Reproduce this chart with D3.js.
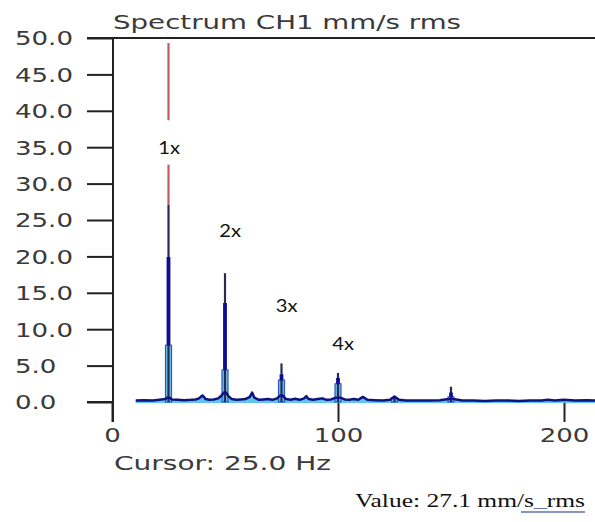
<!DOCTYPE html>
<html><head><meta charset="utf-8">
<script src="https://cdn.jsdelivr.net/npm/d3@7"></script>
<style>body{margin:0;background:#fff}svg{display:block}</style>
</head><body>
<svg id="c" width="595" height="522"></svg>
<script>
// ---- data ----
const yTicks = [0, 5, 10, 15, 20, 25, 30, 35, 40, 45, 50];
const xTicks = [0, 100, 200];
const harmonicHz = [25, 50, 75, 100, 125, 150];
const peakAmp = [27.1, 17.7, 5.3, 4.0, 0.8, 2.1];
const bandAmp = [19.9, 13.6, 3.8, 3.3, 0.6, 1.3];
const baseAmp = [7.8, 4.4, 3.0, 2.5, 0.5, 0.7];
const harmonicLabels = ["1x", "2x", "3x", "4x"];
const labelHz = [20.5, 47.5, 72.5, 97.5];
const labelAmp = [34.0, 22.6, 12.3, 7.1];
const noiseHz = [10.5,14,18,21,23.5,24.5,25.5,26.5,29,32,35,37,38.5,40,41.5,43,45,47,48.5,49.5,50.5,51.5,53,55,57,59,61,62,63,65,67,69,71,73,74.5,75.5,77,79,81,83,85,86,87,89,91,93,95,97,99,101,103,105,107,109,111,113,116,120,123,125,127,130,135,140,145,149,151,155,160,165,170,175,180,185,190,193,196,200,205,210,214];
const noiseAmp = [0.2,0.25,0.2,0.3,0.4,0.6,0.6,0.35,0.3,0.25,0.3,0.35,0.5,0.9,0.4,0.3,0.35,0.5,0.9,1.3,1.3,0.8,0.4,0.3,0.35,0.4,0.7,1.3,0.6,0.3,0.35,0.4,0.3,0.5,0.9,0.9,0.4,0.3,0.45,0.3,0.5,0.8,0.4,0.3,0.4,0.5,0.3,0.35,0.6,0.6,0.35,0.3,0.4,0.3,0.7,0.3,0.25,0.2,0.3,0.75,0.3,0.2,0.2,0.2,0.25,0.4,0.4,0.2,0.2,0.15,0.2,0.2,0.15,0.2,0.2,0.3,0.2,0.3,0.2,0.25,0.2];
const cursorHz = 25, cursorTop = 49.3;

// ---- scales ----
const svg = d3.select("#c");
const x = d3.scaleLinear().domain([0, 200]).range([112, 564]);
const y = d3.scaleLinear().domain([0, 50]).range([402, 38]);
const STRETCH = 1.37;
function stretch(sel, f) {
  sel.each(function(){ const l = this.getComputedTextLength(); d3.select(this).attr("textLength", l*(f||STRETCH)).attr("lengthAdjust","spacingAndGlyphs"); });
}
function fitWidth(sel, w) { sel.attr("textLength", w).attr("lengthAdjust","spacingAndGlyphs"); }

// title
svg.append("text").attr("x", 113).attr("y", 29).attr("font-family","DejaVu Sans, Verdana, sans-serif")
  .attr("font-size", 19).attr("fill", "#3a3a3a").text("Spectrum CH1 mm/s rms").call(fitWidth, 348);

// top frame line
svg.append("line").attr("x1", 87).attr("x2", 595).attr("y1", y(50)).attr("y2", y(50))
  .attr("stroke", "#222").attr("stroke-width", 2);

// y axis
const gy = svg.append("g").attr("transform", "translate(113,0)")
  .call(d3.axisLeft(y).tickValues(yTicks).tickSize(26).tickFormat(d3.format(".1f")));
gy.select(".domain").remove();
gy.selectAll(".tick line").attr("stroke", "#222").attr("stroke-width", 2);
gy.selectAll(".tick text").attr("x", -98).attr("text-anchor", "start").attr("dy", "0.36em")
  .attr("font-family","DejaVu Sans, Verdana, sans-serif").attr("font-size", 19).attr("fill", "#3a3a3a").call(stretch);
svg.append("line").attr("x1", 113).attr("x2", 113).attr("y1", 37).attr("y2", 422)
  .attr("stroke", "#222").attr("stroke-width", 2);

// x axis
const gx = svg.append("g").attr("transform", `translate(0,${y(0)})`)
  .call(d3.axisBottom(x).tickValues(xTicks).tickSize(20));
gx.select(".domain").remove();
gx.selectAll(".tick line").attr("stroke", "#222").attr("stroke-width", 2);
gx.selectAll(".tick text").attr("y", 33).attr("dy", "0.36em")
  .attr("font-family","DejaVu Sans, Verdana, sans-serif").attr("font-size", 19).attr("fill", "#3a3a3a").call(stretch);
svg.append("line").attr("x1", 87).attr("x2", 113).attr("y1", y(0)).attr("y2", y(0))
  .attr("stroke", "#222").attr("stroke-width", 2);

// cursor line
svg.append("line").attr("x1", x(cursorHz)).attr("x2", x(cursorHz)).attr("y1", y(cursorTop)).attr("y2", y(peakAmp[0]))
  .attr("stroke", "#c05a66").attr("stroke-width", 2.2);

// noise area + line
const pts = noiseHz.map((f,i)=>[f, noiseAmp[i]]);
svg.append("path").datum(pts)
  .attr("d", d3.area().x(d=>x(d[0])).y0(y(0)+1).y1(d=>y(d[1])))
  .attr("fill", "#5fc4ee");

// harmonics: light base, blue band, dark peak
const H = harmonicHz.map((f,i)=>({f, p:peakAmp[i], b:bandAmp[i], l:baseAmp[i]}));
svg.append("g").selectAll("rect").data(H).join("rect")
  .attr("x", d=>x(d.f)-3).attr("width", 6).attr("y", d=>y(d.l)).attr("height", d=>y(0)-y(d.l))
  .attr("fill", "#6cc0ee").attr("stroke", "#2a5ac0").attr("stroke-width", 1.2);
svg.append("g").selectAll("line").data(H).join("line")
  .attr("x1", d=>x(d.f)).attr("x2", d=>x(d.f)).attr("y1", d=>y(d.p)).attr("y2", y(0))
  .attr("stroke", "#2a2a50").attr("stroke-width", 2.2);
svg.append("g").selectAll("line").data(H).join("line")
  .attr("x1", d=>x(d.f)).attr("x2", d=>x(d.f)).attr("y1", d=>y(d.b)).attr("y2", d=>y(d.l))
  .attr("stroke", "#0c0c96").attr("stroke-width", 3.8);

svg.append("path").datum(pts)
  .attr("d", d3.line().x(d=>x(d[0])).y(d=>y(d[1])))
  .attr("fill", "none").attr("stroke", "#12127e").attr("stroke-width", 2.5).attr("stroke-linejoin","round");

// harmonic labels (with white backing over cursor line)
const lab = svg.append("g");
lab.append("rect").attr("x", x(cursorHz)-8).attr("y", y(38.7)).attr("width", 16).attr("height", y(32.6)-y(38.7)).attr("fill", "#fff");
lab.selectAll("text").data(harmonicLabels).join("text")
  .attr("x", (d,i)=>x(labelHz[i])).attr("y", (d,i)=>y(labelAmp[i]))
  .attr("font-family","Lato, Carlito, sans-serif").attr("font-size", 18).attr("fill", "#111")
  .text(d=>d).call(stretch, 1.12);

// cursor readout
svg.append("text").attr("x", 114).attr("y", 470).attr("font-family","DejaVu Sans, Verdana, sans-serif")
  .attr("font-size", 19).attr("fill", "#3a3a3a").text("Cursor: 25.0 Hz").call(fitWidth, 217);

// value readout
const vt = svg.append("text").attr("font-family","Liberation Serif, Times New Roman, serif")
  .attr("font-size", 18).attr("fill", "#111");
vt.append("tspan").text("Value: 27.1 mm/s");
vt.append("tspan").attr("fill", "#6070b0").text("_");
vt.append("tspan").text("rms");
const vw = vt.node().getBBox().width;
const k = 230 / vw;
vt.attr("transform", `translate(355,507) scale(${k},1)`);
svg.append("line").attr("x1", 521).attr("x2", 585).attr("y1", 512).attr("y2", 512)
  .attr("stroke", "#6070b0").attr("stroke-width", 1.5);
</script>
</body></html>
